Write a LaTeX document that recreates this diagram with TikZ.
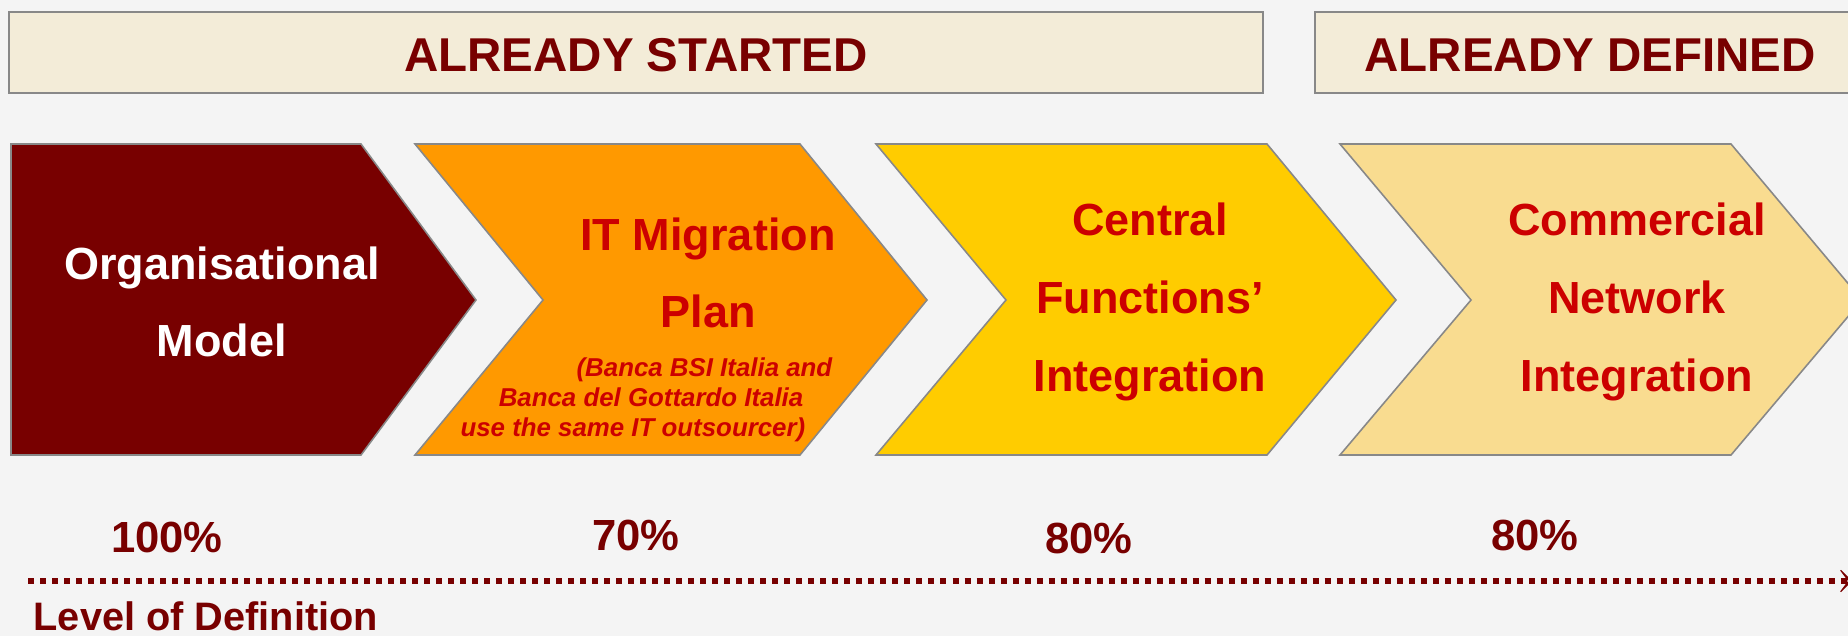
\documentclass[tikz,border=0pt]{standalone}
\usepackage{fontspec}
\setmainfont{Liberation Sans}
\usetikzlibrary{arrows.meta, positioning}

\definecolor{pagebg}{HTML}{F4F4F4}
\definecolor{bannerfill}{HTML}{F3ECD8}
\definecolor{edgegray}{HTML}{888888}
\definecolor{deepred}{HTML}{780000}
\definecolor{brightred}{HTML}{CC0000}
\definecolor{orangefill}{HTML}{FF9900}
\definecolor{yellowfill}{HTML}{FFCC00}
\definecolor{sandfill}{HTML}{F9DC90}

\begin{document}
\begin{tikzpicture}[x=0.01cm, y=-0.01cm,
  every node/.style={inner sep=0pt},
  banner/.style={draw=edgegray, line width=0.6pt, fill=bannerfill},
  chevron/.style={draw=edgegray, line width=0.45pt},
  bannertext/.style={text=deepred, font=\fontsize{13.5}{16}\selectfont\bfseries},
  steptext/.style={text=brightred, align=center, font=\fontsize{12.8}{22.1}\selectfont\bfseries},
  notetext/.style={text=brightred, align=right, font=\fontsize{7.35}{8.5}\selectfont\bfseries\itshape},
  pcttext/.style={text=deepred, font=\fontsize{12.4}{14}\selectfont\bfseries}]
\useasboundingbox (0,0) rectangle (1848,636);
\fill[pagebg] (0,0) rectangle (1848,636);
\clip (0,0) rectangle (1848,636);

% phase banners
\draw[banner] (9,12) rectangle (1263,93);
\draw[banner] (1315,12) rectangle (1866,93);
\node[bannertext, anchor=base] (started) at (636,71) {ALREADY STARTED};
\node[bannertext, anchor=base] (defined) at (1590,71) {ALREADY DEFINED};

% the four steps
\draw[chevron, fill=deepred] (11,144) -- (361,144) -- (476,300) -- (361,455) -- (11,455) -- cycle;
\draw[chevron, fill=orangefill] (415,144) -- (800,144) -- (927,300) -- (800,455) -- (415,455) -- (543,300) -- cycle;
\draw[chevron, fill=yellowfill] (876,144) -- (1267,144) -- (1396,300) -- (1267,455) -- (876,455) -- (1006,300) -- cycle;
\draw[chevron, fill=sandfill] (1340,144) -- (1731,144) -- (1862,300) -- (1731,455) -- (1340,455) -- (1471,300) -- cycle;

\node[steptext, text=white] (orgmodel) at (222,302) {Organisational\\Model};
\node[steptext] (itplan) at (708,273) {IT Migration\\Plan};
\node[notetext, anchor=east] (itnote) at (833,400)
  {(Banca BSI Italia and\\Banca del Gottardo Italia\hspace*{0.29cm}\null\\use the same IT outsourcer)\hspace*{0.27cm}\null};
\node[steptext] (central) at (1150,302) {Central\\Functions'\\Integration};
\node[steptext] (network) at (1637,302) {Commercial\\Network\\Integration};

% level of definition
\node[pcttext, anchor=base] (pctorg) at (167,552) {100\%};
\node[pcttext, anchor=base] (pctit) at (636,550) {70\%};
\node[pcttext, anchor=base] (pctcentral) at (1089,553) {80\%};
\node[pcttext, anchor=base] (pctnetwork) at (1535,550) {80\%};

\coordinate (axisstart) at (28,581);
\coordinate (axisend) at (1852,581);
\draw[deepred, line width=0.065cm, dash pattern=on 0.06cm off 0.06cm,
  -{Stealth[length=0.16cm, width=0.32cm, inset=0.12cm]}] (axisstart) -- (axisend);
\node[pcttext, font=\fontsize{11.3}{13}\selectfont\bfseries, anchor=base west] (leveltext) at (33,630) {Level of Definition};
\end{tikzpicture}
\end{document}
